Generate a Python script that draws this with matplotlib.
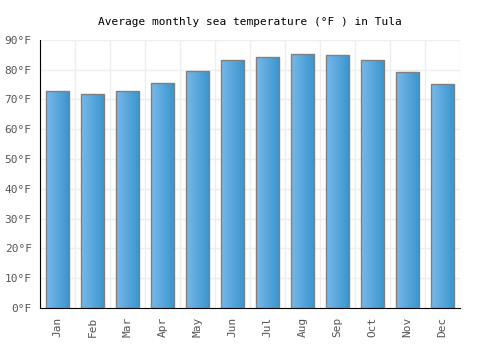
import numpy as np
import matplotlib.pyplot as plt
from matplotlib.colors import LinearSegmentedColormap

months = ['Jan', 'Feb', 'Mar', 'Apr', 'May', 'Jun', 'Jul', 'Aug', 'Sep', 'Oct', 'Nov', 'Dec']
temps = [72.9, 71.7, 72.9, 75.6, 79.6, 83.3, 84.2, 85.3, 84.9, 83.2, 79.1, 75.1]
yticks = list(range(0, 91, 10))

plt.rcParams['font.family'] = ['DejaVu Sans Mono']

fig = plt.figure(figsize=(5, 3.5), dpi=100)
ax = fig.add_axes([0.08, 0.12, 0.84, 0.766])

x = np.arange(len(months))
bars = ax.bar(x, temps, width=0.68, color='none', edgecolor='#808080', linewidth=1, zorder=3)

# horizontal gradient inside each bar
cmap = LinearSegmentedColormap.from_list('grad', ['#78b8ea', '#3895cd'])
grad = np.linspace(0, 1, 64).reshape(1, -1)
for b in bars:
    x0, y0 = b.get_x(), b.get_y()
    im = ax.imshow(grad, cmap=cmap, aspect='auto', zorder=2,
                   extent=[x0, x0 + b.get_width(), y0, y0 + b.get_height()])
    im.set_clip_path(b)

ax.set_xlim(-0.5, len(months) - 0.5)
ax.set_ylim(0, 90)
ax.set_yticks(yticks)
ax.set_yticklabels([f'{v}°F' for v in yticks])
ax.set_xticks(x)
ax.set_xticklabels(months, rotation=90)
ax.set_xticks(np.arange(-0.5, len(months), 1), minor=True)

ax.grid(True, axis='y', color='#eeeeee', linewidth=1, zorder=0)
ax.grid(True, axis='x', which='minor', color='#eeeeee', linewidth=1, zorder=0)
ax.tick_params(axis='both', which='both', length=0, labelsize=8, colors='#555555', pad=6)

for s in ['top', 'right']:
    ax.spines[s].set_visible(False)
ax.spines['left'].set_color('black')
ax.spines['bottom'].set_color('black')

ax.set_title('Average monthly sea temperature (°F ) in Tula', fontsize=8, pad=11)

fig.savefig('out.png', dpi=100)
